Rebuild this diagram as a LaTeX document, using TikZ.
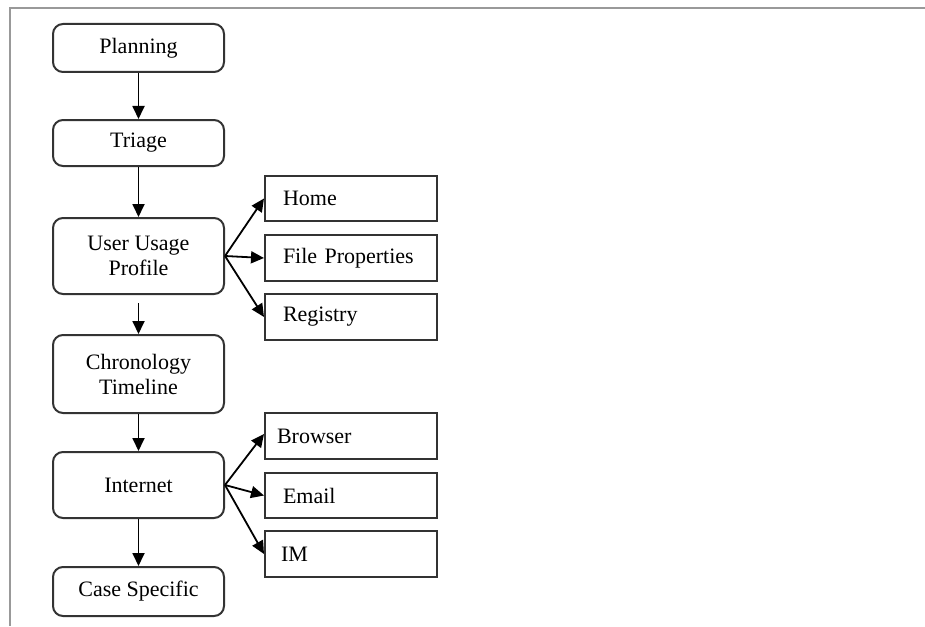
\documentclass[tikz,border=0pt]{standalone}
\usepackage{fontspec}
\setmainfont{Liberation Serif}
\usetikzlibrary{arrows.meta}
\begin{document}
\begin{tikzpicture}[x=0.5pt,y=-0.5pt,
  font=\fontsize{11}{12.5}\selectfont,
  stage/.style={draw=black!80, line width=1pt, rounded corners=5pt,
    minimum width=85.5pt, align=center, inner sep=0pt},
  item/.style={draw=black!80, line width=1pt, minimum width=86pt,
    text width=68pt, inner xsep=9pt, inner ysep=0pt, align=left},
  flow/.style={line width=0.9pt, -{Triangle[length=6.5pt,width=6pt]}},
  frameline/.style={draw=black!40, line width=1.4pt}
]
\useasboundingbox (0,0) rectangle (925,626);
% page frame
\coordinate (f1) at (925,8);
\coordinate (f2) at (10,8);
\coordinate (f3) at (10,626);
\draw[frameline] (f1) -- (f2) -- (f3);

% main stages
\node[stage, minimum height=24pt]   (plan)  at (138.5,48)    {Planning};
\node[stage, minimum height=23pt]   (tri)   at (138.5,143)   {Triage};
\node[stage, minimum height=38pt]   (uup)   at (138.5,256)   {User Usage\\Profile};
\node[stage, minimum height=39pt]   (chron) at (138.5,374)   {Chronology\\Timeline};
\node[stage, minimum height=33pt]   (net)   at (138.5,485)   {Internet};
\node[stage, minimum height=24.5pt] (case)  at (138.5,591.5) {Case Specific};

% detail items
\node[item, minimum height=22.5pt] (home)  at (351,198.5) {Home};
\node[item, minimum height=23pt]   (fprop) at (351,258)   {File Properties};
\node[item, minimum height=23pt]   (reg)   at (351,317)   {Registry};
\node[item, minimum height=23pt]   (brow)  at (351,436)   {\hspace*{-3pt}Browser};
\node[item, minimum height=22.5pt] (mail)  at (351,495.5) {Email};
\node[item, minimum height=23pt]   (im)    at (351,554)   {\hspace*{-1pt}IM};

% flow between stages
\draw[flow] (plan) -- (tri);
\draw[flow] (tri) -- (uup);
\draw[flow, shorten <=4pt] (uup) -- (chron);
\draw[flow] (chron) -- (net);
\draw[flow] (net) -- (case);

% branches
\draw[flow] (uup.east) -- (home.west);
\draw[flow] (uup.east) -- (fprop.west);
\draw[flow] (uup.east) -- (reg.west);
\draw[flow] (net.east) -- ([yshift=1pt]brow.west);
\draw[flow] (net.east) -- (mail.west);
\draw[flow] (net.east) -- (im.west);
\end{tikzpicture}
\end{document}
